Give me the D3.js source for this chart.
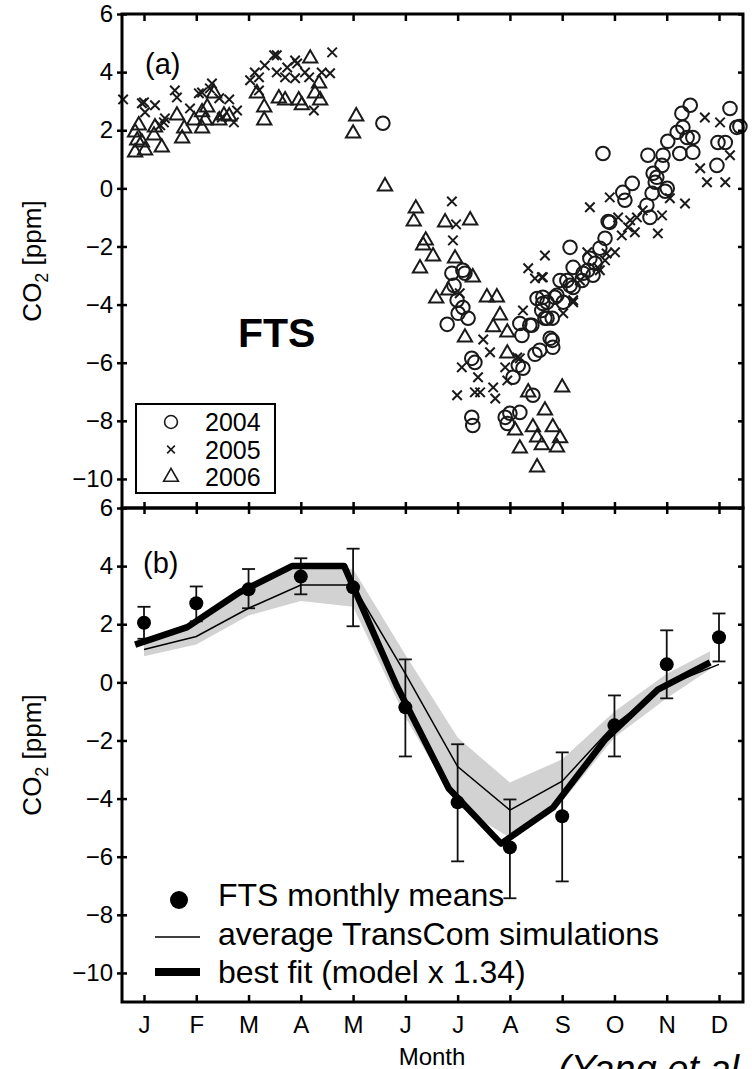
<!DOCTYPE html>
<html>
<head>
<meta charset="utf-8">
<script src="https://cdn.jsdelivr.net/npm/d3@7"></script>
<style>
  body { margin: 0; background: #fff; }
  svg { display: block; }
  text { font-family: "Liberation Sans", Arial, Helvetica, sans-serif; fill: #000; }
</style>
</head>
<body>
<svg id="chart" width="752" height="1069"></svg>
<script>
// month axis
const monthLabels = ["J", "F", "M", "A", "M", "J", "J", "A", "S", "O", "N", "D"];
const months = d3.range(1, 13);
const ppmTicks = [6, 4, 2, 0, -2, -4, -6, -8, -10];

// panel (a): individual FTS values, [month, ppm]
const fts2004 = [
  [5.57, 2.24], [6.89, -2.92], [7.14, -2.92], [7.10, -2.82], [6.93, -3.34], [6.99, -3.85], [7.10, -4.10],
  [7.01, -4.30], [7.20, -4.47], [6.80, -4.68], [7.27, -5.85], [7.33, -5.99], [8.06, -6.50], [8.16, -6.09],
  [8.25, -6.19], [8.48, -5.71], [8.38, -4.71], [8.23, -5.06], [8.81, -5.23], [8.82, -5.47], [8.44, -7.12],
  [8.19, -7.71], [7.91, -7.88], [8.00, -7.74], [7.95, -8.09], [7.27, -7.88], [7.29, -8.16], [8.63, -3.96],
  [8.71, -4.47], [8.90, -3.68], [9.21, -2.72], [9.40, -2.92], [9.59, -2.99], [8.96, -3.17], [9.15, -3.34],
  [8.63, -3.75], [8.52, -3.79], [8.19, -4.65], [8.42, -4.71], [9.78, 1.20], [11.45, 2.86], [11.29, 2.58],
  [11.31, 2.10], [11.20, 1.93], [11.39, 1.75], [11.50, 1.75], [11.02, 1.62], [11.25, 1.20], [11.50, 1.24],
  [10.64, 1.14], [10.93, 1.14], [10.91, 0.79], [10.74, 0.52], [10.81, 0.38], [10.78, 0.21], [11.01, 0.00],
  [10.97, -0.10], [10.72, -0.17], [10.62, -0.58], [10.68, -1.00], [10.34, 0.17], [10.16, -0.14],
  [10.20, -0.41], [9.91, -1.17], [9.88, -1.14], [9.82, -1.72], [9.72, -2.06], [9.53, -2.41], [9.63, -2.58],
  [9.49, -2.82], [9.38, -3.17], [9.09, -3.17], [9.15, -2.03], [9.21, -3.41], [9.02, -3.92], [8.86, -3.75],
  [8.71, -3.92], [8.61, -4.20], [8.67, -4.47], [8.81, -4.47], [8.77, -5.16], [8.57, -5.57], [12.21, 2.75],
  [12.34, 2.10], [12.40, 2.13], [11.98, 1.58], [12.12, 1.58], [11.96, 0.79]
];
const fts2005 = [
  [0.60, 3.06], [1.00, 2.96], [0.96, 2.93], [1.02, 2.62], [1.21, 2.86], [1.59, 3.37], [1.63, 3.13],
  [1.40, 2.41], [1.31, 2.17], [1.38, 2.27], [1.88, 2.75], [2.05, 3.27], [2.11, 3.30], [2.30, 3.61],
  [2.26, 3.44], [2.44, 3.10], [2.63, 3.06], [2.78, 2.68], [2.72, 2.27], [2.49, 2.44], [3.03, 3.72],
  [3.12, 3.99], [3.20, 3.82], [3.31, 4.23], [3.49, 4.58], [3.54, 4.58], [3.54, 3.99], [3.70, 3.82],
  [3.74, 4.16], [3.89, 4.40], [3.93, 4.30], [4.08, 3.99], [4.16, 3.82], [3.89, 3.79], [4.40, 3.99],
  [4.56, 3.96], [4.60, 4.68], [4.25, 2.68], [3.20, 3.37],
  [6.89, -0.45], [6.97, -1.24], [6.91, -1.79], [7.04, -3.61], [7.49, -5.20], [7.08, -6.16], [7.39, -6.50],
  [6.99, -7.12], [7.33, -7.02], [7.43, -7.02], [7.68, -6.85], [7.72, -7.23], [7.91, -6.16], [7.95, -6.61],
  [8.14, -5.82], [8.19, -5.85], [7.62, -5.64], [8.25, -4.20], [8.35, -2.75], [8.48, -3.10], [8.63, -3.06],
  [8.67, -2.31], [9.02, -4.30], [9.21, -3.92],
  [11.73, 2.44], [12.02, 2.27], [12.21, 1.14], [11.64, 0.69], [11.77, 0.21], [12.12, 0.21], [11.35, -0.52],
  [11.06, -0.34], [10.91, -0.93], [10.83, -1.55], [10.39, -1.51], [10.43, -1.00], [10.26, -1.34],
  [10.14, -1.62], [10.01, -2.20], [9.91, -0.31], [9.53, -0.65], [10.07, -1.00], [9.82, -2.48], [9.72, -2.82],
  [9.48, -2.20], [9.34, -3.17], [9.21, -3.85], [8.61, -3.06], [10.54, -0.76], [10.30, -1.10], [9.85, -2.24],
  [9.68, -2.72]
];
const fts2006 = [
  [0.83, 1.93], [0.90, 2.17], [0.87, 1.65], [0.83, 1.24], [1.02, 1.31], [0.96, 1.58], [1.21, 2.10],
  [1.19, 1.82], [1.34, 1.41], [1.63, 2.51], [1.77, 2.06], [1.73, 1.72], [1.96, 2.34], [2.11, 2.62],
  [2.21, 2.79], [2.17, 2.34], [2.11, 2.06], [2.34, 3.27], [2.44, 2.34], [2.53, 2.51], [2.63, 2.48],
  [3.16, 3.27], [3.30, 2.79], [3.30, 2.34], [3.58, 3.10], [3.70, 3.03], [3.96, 3.03], [4.02, 2.86],
  [4.18, 4.47], [4.35, 3.61], [4.27, 3.27], [4.37, 3.03], [5.06, 2.48], [5.00, 1.89], [5.61, 0.07],
  [6.20, -0.69], [6.16, -1.14], [6.76, -1.17], [7.24, -1.10], [6.39, -1.79], [6.34, -1.96], [6.53, -2.34],
  [6.28, -2.75], [6.95, -2.41], [7.29, -3.06], [6.82, -3.51], [6.59, -3.79], [7.56, -3.75], [7.75, -3.75],
  [7.81, -4.37], [7.68, -4.78], [7.14, -5.13], [7.95, -4.96], [7.95, -5.68], [8.35, -7.02], [9.00, -6.85],
  [8.67, -7.64], [8.82, -8.22], [8.44, -8.22], [8.10, -8.33], [8.52, -8.57], [8.96, -8.60], [8.61, -8.84],
  [8.19, -8.95], [8.90, -8.91], [8.52, -9.60]
];

// panel (b): monthly means with error bars
const ftsMean = [2.05, 2.72, 3.2, 3.64, 3.27, -0.86, -4.13, -5.68, -4.61, -1.48, 0.62, 1.55];
const ftsLow = [1.5, 2.1, 2.55, 3.03, 1.93, -2.55, -6.16, -7.43, -6.85, -2.55, -0.55, 0.72];
const ftsHigh = [2.6, 3.3, 3.9, 4.27, 4.6, 0.79, -2.13, -4.03, -2.41, -0.45, 1.79, 2.37];
// TransCom mean and spread
const transcomMean = [1.13, 1.58, 2.55, 3.35, 3.35, 0.3, -2.9, -4.4, -3.4, -1.45, -0.1, 0.62];
const bandMonths = [1, 2, 3, 4, 5, 6, 7, 8, 9, 10, 11, 11.83];
const bandLow = [0.9, 1.3, 2.3, 2.8, 2.6, -1.2, -4.25, -5.35, -4.1, -1.9, -0.55, 0.45];
const bandHigh = [1.45, 2.15, 3.35, 4.0, 3.9, 0.95, -1.9, -3.45, -2.65, -1.0, 0.3, 1.07];
// best fit, plotted slightly before mid-month
const fitMonths = [0.83, 1.83, 2.83, 3.83, 4.83, 5.83, 6.83, 7.83, 8.83, 9.83, 10.83, 11.83];
const bestFit = [1.3, 1.9, 3.1, 4.0, 4.0, -0.1, -3.65, -5.55, -4.3, -1.95, -0.25, 0.69];

const svg = d3.select("#chart");
const left = 122, right = 743;
const tickFont = 24;
const x = d3.scaleLinear().domain([1, 12]).range([144, 719]);
const yA = d3.scaleLinear().domain([-11, 6]).range([508, 14]);
const yB = d3.scaleLinear().domain([-11, 6]).range([1002, 508]);

function tidy(g, withText) {
  g.select(".domain").remove();
  g.attr("font-size", tickFont).attr("font-family", null);
  g.selectAll(".tick line").attr("stroke", "#000").attr("stroke-width", 2.5);
  if (!withText) g.selectAll(".tick text").remove();
}

function panelAxes(y, top) {
  const [y0, y1] = y.range();
  // left: labels + ticks crossing the axis
  svg.append("g").attr("transform", `translate(${left},0)`)
    .call(d3.axisLeft(y).tickValues(ppmTicks).tickSize(5).tickPadding(4))
    .call(g => tidy(g, true));
  svg.append("g").attr("transform", `translate(${left},0)`)
    .call(d3.axisRight(y).tickValues(ppmTicks).tickSize(5)).call(g => tidy(g, false));
  // right: inward
  svg.append("g").attr("transform", `translate(${right},0)`)
    .call(d3.axisLeft(y).tickValues(ppmTicks).tickSize(5)).call(g => tidy(g, false));
  if (top) {
    svg.append("g").attr("transform", `translate(0,${y1})`)
      .call(d3.axisBottom(x).tickValues(months).tickSize(7)).call(g => tidy(g, false));
  }
  svg.append("rect")
    .attr("x", left).attr("y", y1).attr("width", right - left).attr("height", y0 - y1)
    .attr("fill", "none").attr("stroke", "#000").attr("stroke-width", 3);
}

// ---------- panel (a) ----------
const markerStyle = sel => sel.attr("fill", "none").attr("stroke", "#1a1a1a").attr("stroke-width", 2);

svg.append("g").selectAll("path").data(fts2006).join("path")
  .attr("transform", d => `translate(${x(d[0])},${yA(d[1])})`)
  .attr("d", d3.symbol(d3.symbolTriangle, 88)()).call(markerStyle);
svg.append("g").selectAll("path").data(fts2005).join("path")
  .attr("transform", d => `translate(${x(d[0])},${yA(d[1])})`)
  .attr("d", d3.symbol(d3.symbolTimes, 60)()).call(markerStyle);
svg.append("g").selectAll("circle").data(fts2004).join("circle")
  .attr("cx", d => x(d[0])).attr("cy", d => yA(d[1])).attr("r", 6.8).call(markerStyle);

panelAxes(yA, true);

svg.append("text").attr("x", 145).attr("y", 74).attr("font-size", 29).text("(a)");
svg.append("text").attr("x", 238).attr("y", 347).attr("font-size", 41).attr("font-weight", "bold").text("FTS");

// legend (a)
const legA = svg.append("g");
legA.append("rect").attr("x", 136).attr("y", 404).attr("width", 139).attr("height", 89)
  .attr("fill", "#fff").attr("stroke", "#000").attr("stroke-width", 2);
const yearKeys = [
  { label: "2004", type: d3.symbolCircle, size: 130 },
  { label: "2005", type: d3.symbolTimes, size: 40 },
  { label: "2006", type: d3.symbolTriangle, size: 95 }
];
yearKeys.forEach((k, i) => {
  const cy = 422 + i * 27.5;
  legA.append("path").attr("transform", `translate(171,${cy})`)
    .attr("d", d3.symbol(k.type, k.size)()).call(markerStyle).attr("stroke-width", 1.6);
  legA.append("text").attr("x", 205).attr("y", cy + 9).attr("font-size", 25).text(k.label);
});

// ---------- panel (b) ----------
svg.append("path")
  .attr("d", d3.area().x((d, i) => x(bandMonths[i])).y0((d, i) => yB(bandLow[i])).y1(d => yB(d))(bandHigh))
  .attr("fill", "#d2d2d2");

const err = svg.append("g").attr("stroke", "#111").attr("stroke-width", 1.8);
months.forEach((m, i) => {
  const cx = x(m);
  err.append("line").attr("x1", cx).attr("x2", cx).attr("y1", yB(ftsLow[i])).attr("y2", yB(ftsHigh[i]));
  [ftsLow[i], ftsHigh[i]].forEach(v =>
    err.append("line").attr("x1", cx - 6.5).attr("x2", cx + 6.5).attr("y1", yB(v)).attr("y2", yB(v)));
});

svg.append("path")
  .attr("d", d3.line().x((d, i) => x(months[i])).y(d => yB(d))(transcomMean))
  .attr("fill", "none").attr("stroke", "#000").attr("stroke-width", 1.5);
svg.append("path")
  .attr("d", d3.line().x((d, i) => x(fitMonths[i])).y(d => yB(d))(bestFit))
  .attr("fill", "none").attr("stroke", "#000").attr("stroke-width", 6.5).attr("stroke-linejoin", "round");

svg.append("g").selectAll("circle").data(ftsMean).join("circle")
  .attr("cx", (d, i) => x(months[i])).attr("cy", d => yB(d)).attr("r", 7).attr("fill", "#000");

panelAxes(yB, false);
// shared boundary: ticks upward into (a) and downward into (b)
svg.append("g").attr("transform", `translate(0,${yA.range()[0]})`)
  .call(d3.axisTop(x).tickValues(months).tickSize(6)).call(g => tidy(g, false));
svg.append("g").attr("transform", `translate(0,${yB.range()[1]})`)
  .call(d3.axisBottom(x).tickValues(months).tickSize(6)).call(g => tidy(g, false));
// bottom month axis
svg.append("g").attr("transform", `translate(0,${yB.range()[0]})`)
  .call(d3.axisTop(x).tickValues(months).tickSize(7)).call(g => tidy(g, false));
svg.append("g").attr("transform", `translate(0,${yB.range()[0]})`)
  .call(d3.axisBottom(x).tickValues(months).tickSize(0).tickPadding(14).tickFormat((d, i) => monthLabels[i]))
  .call(g => tidy(g, true));

svg.append("text").attr("x", 143).attr("y", 573).attr("font-size", 29).text("(b)");

// legend (b)
const legB = svg.append("g");
legB.append("circle").attr("cx", 179).attr("cy", 900).attr("r", 9).attr("fill", "#000");
legB.append("line").attr("x1", 155).attr("x2", 200).attr("y1", 937).attr("y2", 937)
  .attr("stroke", "#000").attr("stroke-width", 1.5);
legB.append("line").attr("x1", 155).attr("x2", 200).attr("y1", 972).attr("y2", 972)
  .attr("stroke", "#000").attr("stroke-width", 8);
[["FTS monthly means", 906], ["average TransCom simulations", 945], ["best fit (model x 1.34)", 983]]
  .forEach(([t, yy]) => legB.append("text").attr("x", 218).attr("y", yy).attr("font-size", 32).text(t));

// axis titles
[yA, yB].forEach(y => {
  const cy = (y.range()[0] + y.range()[1]) / 2;
  const t = svg.append("text").attr("transform", `translate(41,${cy}) rotate(-90)`)
    .attr("text-anchor", "middle").attr("font-size", 26);
  t.append("tspan").text("CO");
  t.append("tspan").attr("font-size", 18).attr("dy", 7).text("2");
  t.append("tspan").attr("dy", -7).text(" [ppm]");
});
svg.append("text").attr("x", 432).attr("y", 1065).attr("text-anchor", "middle").attr("font-size", 24).text("Month");
svg.append("text").attr("x", 558).attr("y", 1082).attr("font-size", 38).attr("font-style", "italic").text("(Yang et al.)");
</script>
</body>
</html>
